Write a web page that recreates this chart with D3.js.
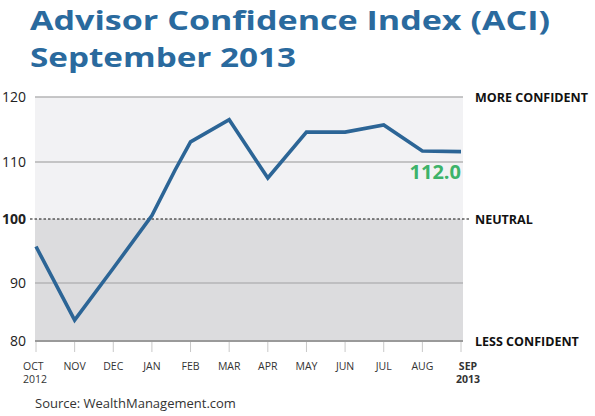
<!DOCTYPE html>
<html>
<head>
<meta charset="utf-8">
<script src="https://cdn.jsdelivr.net/npm/d3@7"></script>
<style>
  body { margin: 0; background: #fff; }
  text { font-family: "Open Sans", sans-serif; }
</style>
</head>
<body>
<svg width="595" height="416"></svg>
<script>
var width = 595;
var height = 416;

// month labels along the bottom
var months = ["OCT", "NOV", "DEC", "JAN", "FEB", "MAR", "APR", "MAY", "JUN", "JUL", "AUG", "SEP"];
var years = ["2012", "", "", "", "", "", "", "", "", "", "", "2013"];

// index readings (position in months from Oct 2012, value)
var positions = [0, 1, 2, 3, 3.6, 4, 5, 6, 7, 8, 9, 10, 11];
var values = [95.7, 83.6, 92.3, 100.6, 108.6, 113.1, 116.5, 107.2, 114.6, 114.6, 115.7, 111.7, 111.6];

var yTicks = [80, 90, 100, 110, 120];
var zoneLabels = [{v: 120, t: "MORE CONFIDENT"}, {v: 100, t: "NEUTRAL"}, {v: 80, t: "LESS CONFIDENT"}];
var lastLabel = "112.0";

var svg = d3.select("svg");

var x = d3.scaleLinear().domain([0, 11]).range([36, 461]);
var y = d3.scaleLinear().domain([80, 90, 100, 110, 120]).range([341, 283, 219, 162, 97]);
var left = 35, right = 463;

// title
svg.append("text").attr("x", 30).attr("y", 29.5)
    .attr("textLength", 520).attr("lengthAdjust", "spacingAndGlyphs")
    .style("font-size", "27px").style("font-weight", 700).style("fill", "#2a6a9e")
    .text("Advisor Confidence Index (ACI)");
svg.append("text").attr("x", 30).attr("y", 66.5)
    .attr("textLength", 266).attr("lengthAdjust", "spacingAndGlyphs")
    .style("font-size", "27px").style("font-weight", 700).style("fill", "#2a6a9e")
    .text("September 2013");

// shaded zones
svg.append("rect").attr("x", left).attr("y", y(120)).attr("width", right - left).attr("height", y(100) - y(120))
    .style("fill", "#f2f2f4");
svg.append("rect").attr("x", left).attr("y", y(100)).attr("width", right - left).attr("height", y(80) - y(100))
    .style("fill", "#dcdcde");

// gridlines
svg.selectAll(".grid")
    .data(yTicks.filter(function(d) { return d != 100; }))
    .enter()
    .append("line")
    .attr("x1", left).attr("x2", right)
    .attr("y1", function(d) { return y(d); })
    .attr("y2", function(d) { return y(d); })
    .style("stroke", function(d) { return d == 80 ? "#9a9a9a" : "#b4b4b6"; })
    .style("stroke-width", function(d) { return d == 80 ? 2 : 1.3; });

svg.append("line")
    .attr("x1", 30).attr("x2", 471)
    .attr("y1", y(100)).attr("y2", y(100))
    .style("stroke", "#111").style("stroke-width", 1.2)
    .style("stroke-dasharray", "2.5,2");

// y labels
svg.selectAll(".ylab")
    .data(yTicks)
    .enter()
    .append("text")
    .attr("x", 26)
    .attr("y", function(d) { return y(d) + 5; })
    .attr("text-anchor", "end")
    .style("font-size", "14px")
    .style("font-weight", function(d) { return d == 100 ? 700 : 400; })
    .style("fill", "#222")
    .text(function(d) { return d; });

// x ticks
svg.selectAll(".xtick")
    .data(months)
    .enter()
    .append("line")
    .attr("x1", function(d, i) { return x(i); })
    .attr("x2", function(d, i) { return x(i); })
    .attr("y1", y(80) + 1).attr("y2", y(80) + 11)
    .style("stroke", "#c8c8c8").style("stroke-width", 1);

function labX(d, i) { return i == 0 ? x(0) - 13 : (i == 11 ? x(i) + 7 : x(i)); }

var xl = svg.selectAll(".xlab")
    .data(months)
    .enter()
    .append("text")
    .attr("text-anchor", function(d, i) { return i == 0 ? "start" : "middle"; })
    .attr("x", labX)
    .attr("y", 370)
    .style("font-size", "10.5px")
    .style("font-weight", function(d, i) { return i == 11 ? 700 : 400; })
    .style("fill", "#333");
xl.append("tspan").text(function(d) { return d; });
xl.append("tspan")
    .attr("x", labX)
    .attr("dy", 12.5)
    .text(function(d, i) { return years[i]; });

// line
var pts = positions.map(function(p, i) { return [p, values[i]]; });
svg.append("path")
    .datum(pts)
    .attr("d", d3.line().x(function(d) { return x(d[0]); }).y(function(d) { return y(d[1]); }))
    .style("fill", "none")
    .style("stroke", "#2c6596")
    .style("stroke-width", 3.6)
    .style("stroke-linejoin", "miter");

// last value
svg.append("text")
    .attr("x", 461).attr("y", 179)
    .attr("text-anchor", "end")
    .style("font-size", "20px").style("font-weight", 700).style("fill", "#3db36a")
    .text(lastLabel);

// zone labels on right
svg.selectAll(".zone")
    .data(zoneLabels)
    .enter()
    .append("text")
    .attr("x", 475)
    .attr("y", function(d) { return y(d.v) + 4.5; })
    .style("font-size", "12.5px").style("font-weight", 700).style("fill", "#111")
    .text(function(d) { return d.t; });

// source
svg.append("text").attr("x", 35).attr("y", 408)
    .style("font-size", "13px").style("fill", "#333")
    .text("Source: WealthManagement.com");
</script>
</body>
</html>
